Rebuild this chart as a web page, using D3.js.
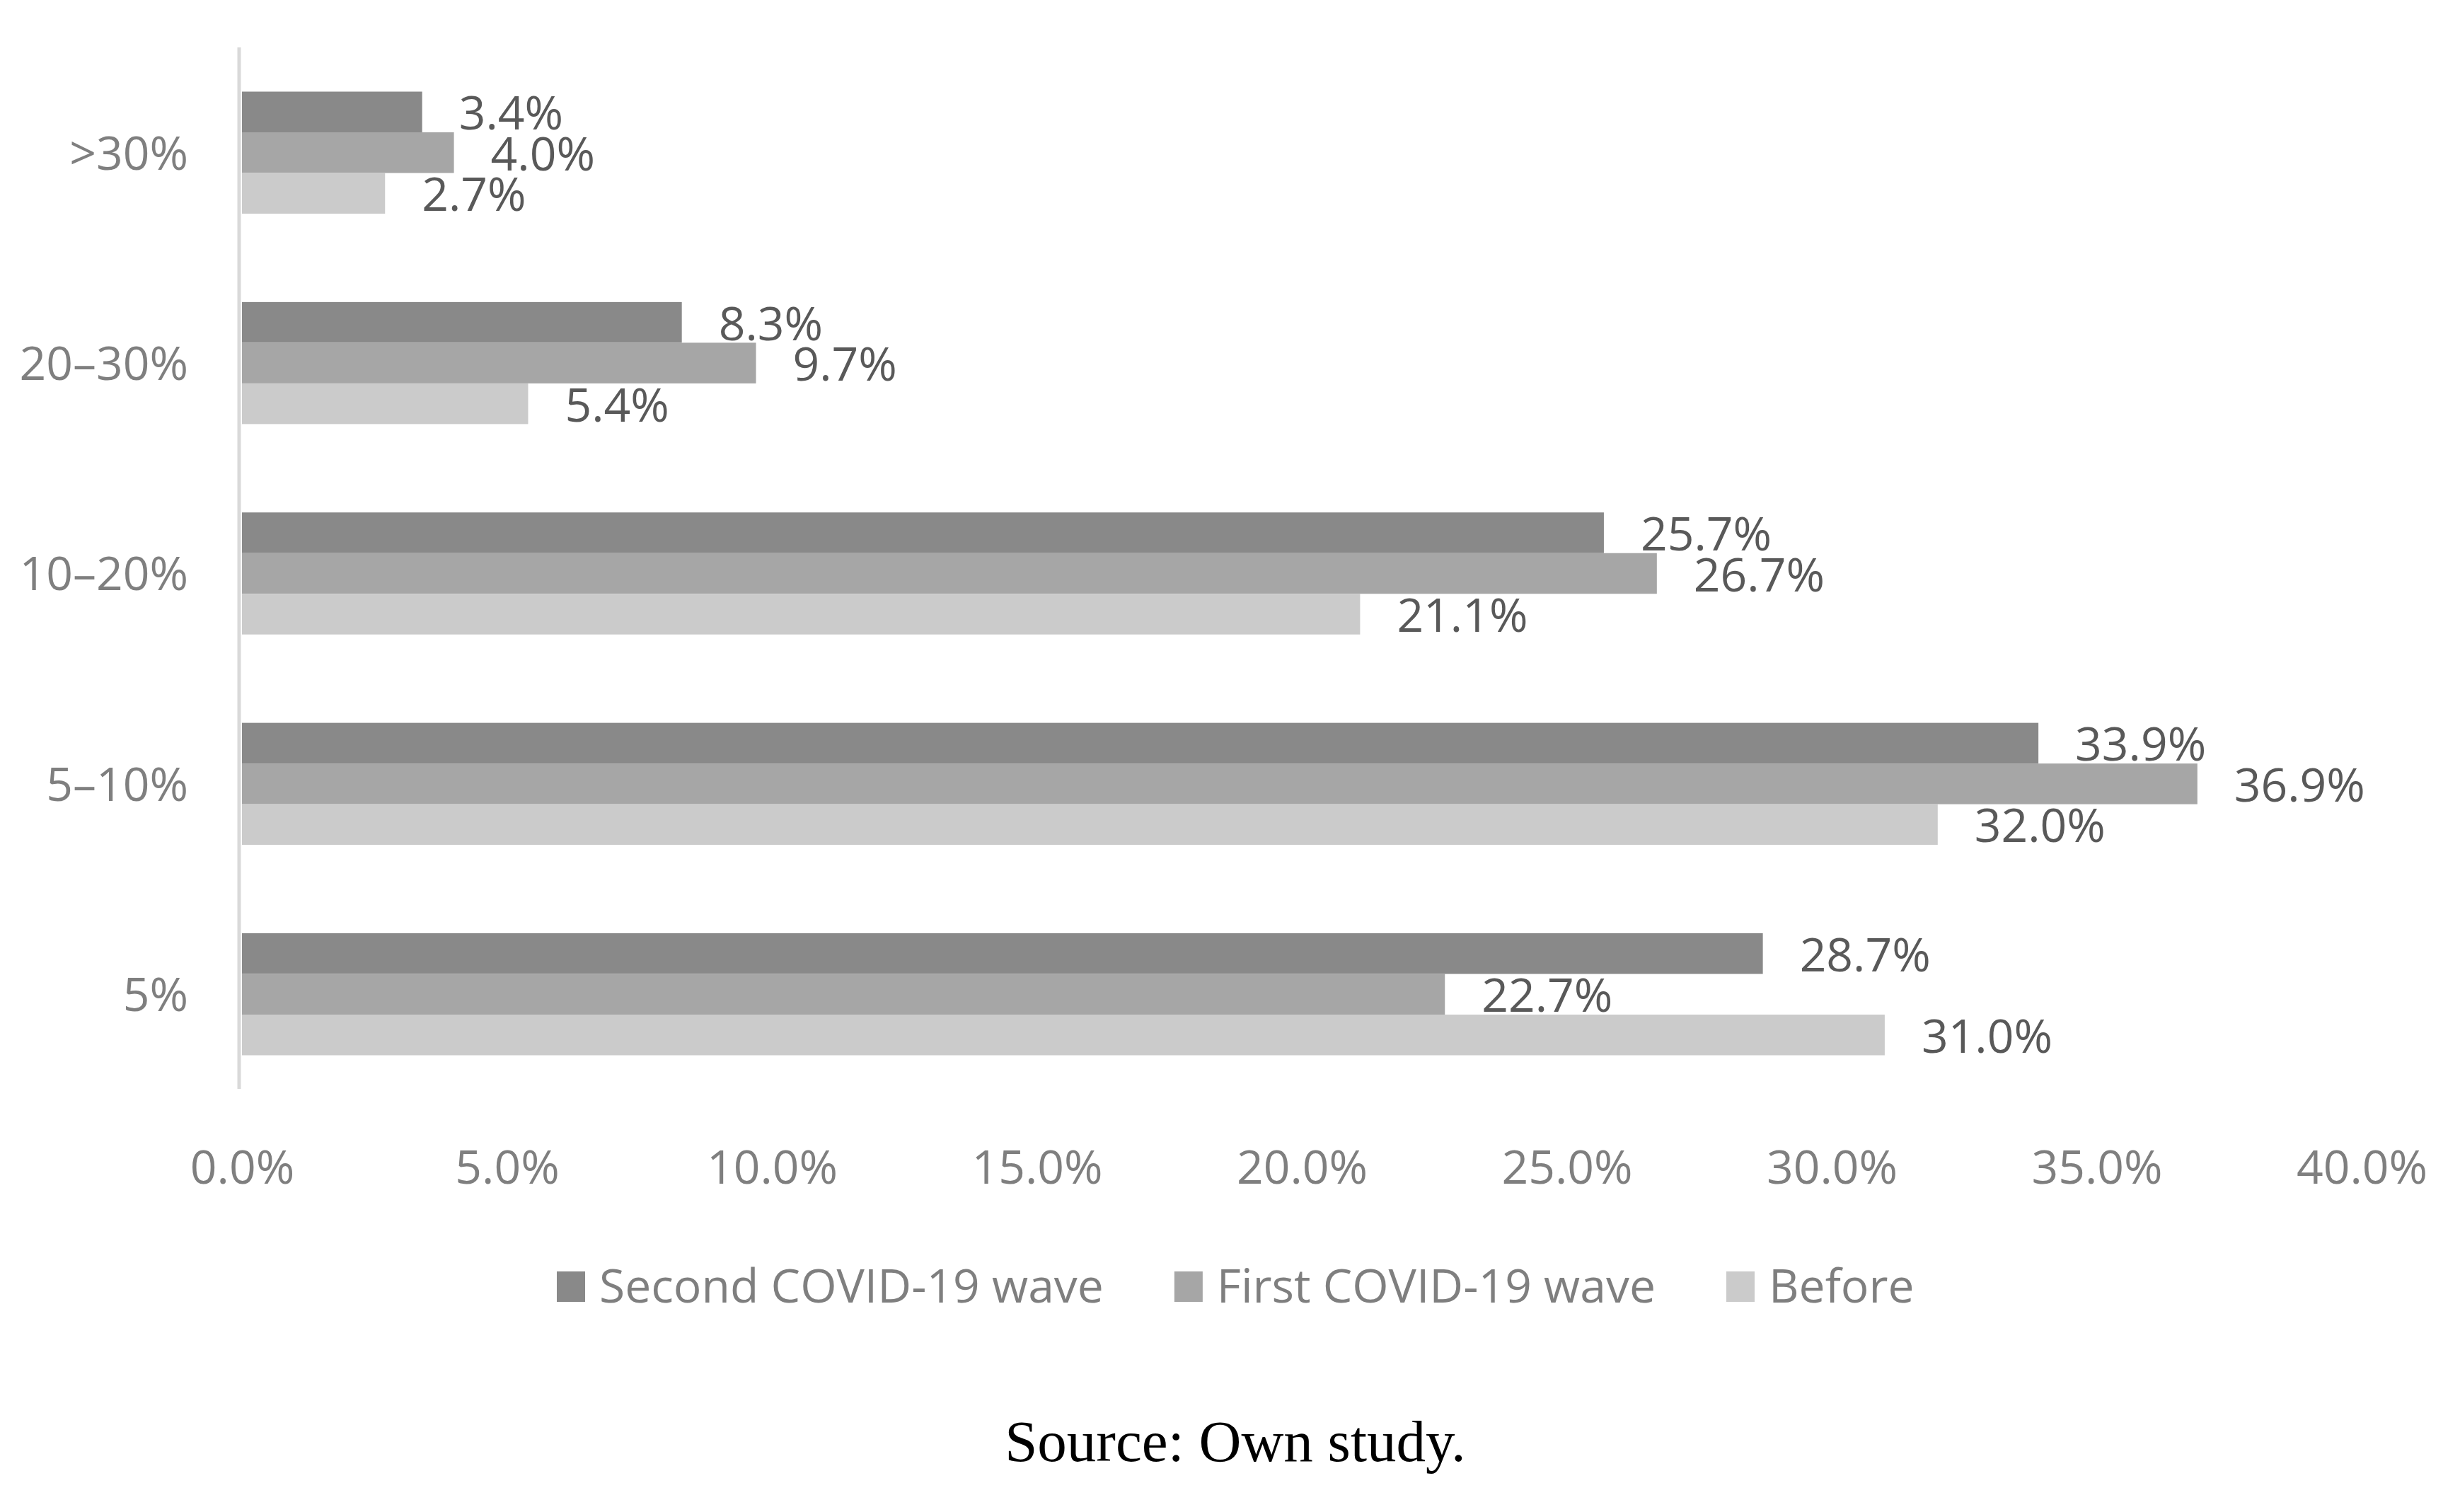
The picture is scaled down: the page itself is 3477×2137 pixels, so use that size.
<!DOCTYPE html>
<html>
<head>
<meta charset="utf-8">
<script src="https://cdn.jsdelivr.net/npm/d3@7"></script>
<style>
  html, body { margin: 0; padding: 0; background: #ffffff; }
  svg { display: block; }
</style>
</head>
<body>
<svg id="chart" width="3477" height="2137"></svg>
<script>
// ---- data ----
const categories = [">30%", "20–30%", "10–20%", "5–10%", "5%"];
const seriesNames = ["Second COVID-19 wave", "First COVID-19 wave", "Before"];
const secondWave = [3.4, 8.3, 25.7, 33.9, 28.7];
const firstWave = [4.0, 9.7, 26.7, 36.9, 22.7];
const before = [2.7, 5.4, 21.1, 32.0, 31.0];
const xTicks = [0, 5, 10, 15, 20, 25, 30, 35, 40];
const sourceText = "Source: Own study.";

const seriesValues = [secondWave, firstWave, before];
const colors = ["#898989", "#a6a6a6", "#cbcbcb"];

const W = 3477, H = 2137;
const svg = d3.select("#chart");
svg.append("rect").attr("width", W).attr("height", H).attr("fill", "#fff");

const font = "'Open Sans', 'Noto Sans', sans-serif";
const fs = 66;

const x = d3.scaleLinear().domain([0, 40]).range([342, 3338]);
const y = d3.scaleBand().domain(categories).range([73, 1548])
  .paddingInner(0.42).paddingOuter(0.19);
const ySub = d3.scaleBand().domain(d3.range(seriesNames.length)).range([0, y.bandwidth()]);

// category axis line
svg.append("line")
  .attr("x1", x(0) - 4).attr("x2", x(0) - 4)
  .attr("y1", 67).attr("y2", 1539)
  .attr("stroke", "#d9d9d9").attr("stroke-width", 5);

// bars
const rows = [];
categories.forEach((c, i) => {
  seriesValues.forEach((vals, s) => rows.push({ cat: c, s, v: vals[i] }));
});

const g = svg.append("g");
g.selectAll("rect.bar").data(rows).enter().append("rect")
  .attr("class", "bar")
  .attr("x", x(0))
  .attr("y", d => y(d.cat) + ySub(d.s))
  .attr("width", d => x(d.v) - x(0))
  .attr("height", ySub.bandwidth())
  .attr("fill", d => colors[d.s]);

g.selectAll("text.val").data(rows).enter().append("text")
  .attr("class", "val")
  .attr("x", d => x(d.v) + 52)
  .attr("y", d => y(d.cat) + ySub(d.s) + ySub.bandwidth() / 2)
  .attr("dy", "0.38em")
  .attr("font-family", font).attr("font-size", fs)
  .attr("fill", "#595959")
  .text(d => d.v.toFixed(1) + "%");

// category labels
const yAxis = d3.axisLeft(y).tickSize(0).tickPadding(0);
const ya = svg.append("g").attr("transform", "translate(266,0)").call(yAxis);
ya.select(".domain").remove();
ya.selectAll("text").attr("font-family", font).attr("font-size", fs)
  .attr("fill", "#7f7f7f").attr("dy", "0.36em");

// x tick labels
const xAxis = d3.axisBottom(x).tickValues(xTicks).tickSize(0).tickPadding(0)
  .tickFormat(d => d.toFixed(1) + "%");
const xa = svg.append("g").attr("transform", "translate(0,1673)").call(xAxis);
xa.select(".domain").remove();
xa.selectAll("text").attr("font-family", font).attr("font-size", fs)
  .attr("fill", "#7f7f7f").attr("dy", "0");

// legend
const leg = svg.append("g");
let lx = 787;
seriesNames.forEach((name, i) => {
  leg.append("rect").attr("x", lx).attr("y", 1797).attr("width", 40).attr("height", 43)
    .attr("fill", colors[i]);
  const t = leg.append("text").attr("x", lx + 60).attr("y", 1841)
    .attr("font-family", font).attr("font-size", fs).attr("fill", "#7f7f7f")
    .text(name);
  lx = lx + 60 + t.node().getComputedTextLength() + 100;
});

// source
svg.append("text").attr("x", 1746).attr("y", 2065)
  .attr("text-anchor", "middle")
  .attr("font-family", "'Liberation Serif', 'DejaVu Serif', serif")
  .attr("font-size", 83).attr("fill", "#000")
  .text(sourceText);
</script>
</body>
</html>
